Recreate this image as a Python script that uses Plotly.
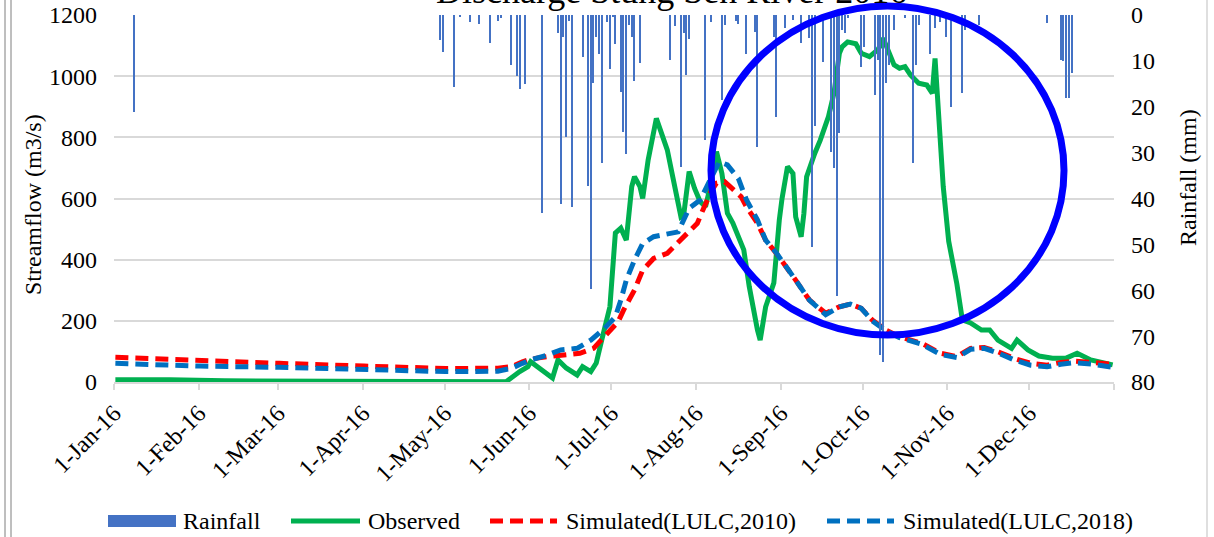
import pandas as pd
import plotly.graph_objects as go

# ---------------- data ----------------
YEAR_START = pd.Timestamp("2016-01-01")

# day of year (0 = 1-Jan-2016) and streamflow (m3/s)
obs_day = [0, 10, 20, 40, 70, 100, 143, 148, 151, 152, 155, 160, 162, 165, 169, 171,
           174, 176, 178, 181, 183, 185, 187, 189, 190, 192, 193, 195, 198, 200, 202, 204,
           207, 208, 210, 212, 214, 216, 218, 220, 222, 224, 226, 230, 232, 235, 236, 238,
           241, 243, 244, 246, 248, 249, 251, 252, 253, 256, 258, 261, 263, 265, 266, 268,
           271, 273, 276, 279, 280, 281, 283, 285, 287, 289, 291, 294, 297, 299, 300, 301,
           302, 303, 305, 308, 310, 313, 317, 320, 323, 328, 330, 334, 338, 343, 348, 352,
           357, 362, 365]
obs_val = [7, 9, 7, 4, 2, 1, 1, 34, 50, 66, 46, 13, 72, 46, 23, 50,
           34, 62, 137, 246, 487, 503, 464, 639, 671, 639, 600, 726, 862, 813, 759, 671,
           540, 546, 688, 633, 590, 573, 650, 753, 682, 552, 520, 432, 312, 170, 137, 246,
           324, 530, 600, 704, 682, 540, 475, 551, 671, 748, 791, 868, 944, 1075, 1096, 1112,
           1106, 1075, 1064, 1086, 1100, 1124, 1075, 1037, 1026, 1031, 1004, 977, 971, 944, 1058, 900,
           769, 639, 460, 320, 203, 193, 170, 170, 137, 110, 137, 105, 85, 78, 78, 94,
           72, 61, 56]

sim10_day = [0, 31, 60, 91, 121, 140, 145, 149, 152, 158, 163, 170, 175, 180, 184, 186,
             190, 193, 197, 202, 205, 209, 213, 215, 218, 220, 223, 225, 229, 231, 235, 238,
             242, 249, 254, 260, 265, 269, 273, 277, 282, 287, 295, 302, 308, 313, 318, 323,
             329, 335, 341, 346, 351, 358, 365]
sim10_val = [81, 69, 61, 52, 44, 45, 50, 66, 75, 83, 88, 94, 110, 159, 197, 235,
             301, 366, 404, 421, 448, 486, 519, 562, 622, 650, 655, 639, 606, 573, 519, 464,
             420, 333, 268, 225, 246, 255, 241, 203, 170, 148, 127, 94, 83, 110, 113, 99,
             77, 61, 55, 64, 68, 64, 58]

sim18_day = [0, 31, 60, 91, 121, 140, 145, 149, 152, 158, 163, 169, 174, 179, 183, 185,
             187, 190, 193, 197, 202, 206, 208, 210, 214, 218, 221, 224, 228, 231, 235, 238,
             242, 249, 254, 260, 265, 269, 273, 277, 282, 287, 295, 302, 308, 313, 318, 323,
             329, 335, 341, 346, 351, 358, 365]
sim18_val = [61, 52, 48, 41, 34, 35, 45, 61, 72, 88, 105, 110, 137, 175, 213, 268,
             333, 399, 453, 475, 486, 491, 530, 568, 595, 671, 720, 710, 666, 595, 530, 464,
             421, 333, 268, 220, 246, 255, 241, 200, 168, 145, 124, 90, 80, 107, 110, 95,
             72, 55, 50, 58, 63, 58, 48]

# daily rainfall (mm)
rain_day = [7, 119, 120, 124, 126, 130, 133, 137, 140, 141, 145, 147, 148, 150, 156, 162,
            163, 164, 165, 166, 167, 171, 173, 174, 175, 176, 177, 178, 180, 181, 182, 183,
            185, 186, 187, 188, 189, 190, 192, 203, 205, 207, 208, 209, 210, 216, 218, 222,
            223, 227, 228, 231, 234, 235, 241, 242, 245, 248, 251, 254, 255, 256, 259, 262,
            263, 264, 265, 266, 267, 268, 273, 274, 278, 279, 280, 281, 282, 283, 285, 289,
            292, 293, 294, 298, 300, 302, 304, 306, 310, 311, 316, 341, 346, 347, 348, 349, 350]
rain_mm = [21.2, 5.4, 8.0, 15.8, 0.4, 1.5, 2.0, 6.0, 1.2, 0.7, 10.9, 13.3, 16.2, 15.0, 43.2, 4.0,
           41.2, 4.9, 26.7, 1.2, 41.8, 9.2, 37.3, 59.8, 14.8, 4.7, 8.5, 32.3, 1.5, 11.8, 0.4, 6.3,
           16.7, 25.4, 30.2, 2.2, 4.9, 14.3, 10.5, 9.7, 2.5, 33.1, 4.0, 13.1, 5.3, 27.3, 1.5, 18.5,
           2.2, 1.2, 2.0, 8.4, 3.6, 28.7, 4.7, 22.2, 2.9, 1.1, 6.0, 5.1, 50.5, 24.3, 10.2, 29.8,
           33.4, 61.3, 25.8, 3.3, 4.0, 0.7, 11.3, 6.9, 17.4, 9.8, 74.1, 75.6, 14.9, 10.9, 3.3, 0.7,
           32.3, 10.9, 2.2, 8.4, 2.9, 1.5, 4.7, 20.0, 17.1, 3.3, 2.2, 1.7, 9.8, 10.0, 18.2, 18.0, 12.6]

month_labels = ["1-Jan-16", "1-Feb-16", "1-Mar-16", "1-Apr-16", "1-May-16", "1-Jun-16",
                "1-Jul-16", "1-Aug-16", "1-Sep-16", "1-Oct-16", "1-Nov-16", "1-Dec-16"]

title_text = "Discharge Stung Sen River 2016"
y_left_title = "Streamflow (m3/s)"
y_right_title = "Rainfall (mm)"
legend_names = ["Rainfall", "Observed", "Simulated(LULC,2010)", "Simulated(LULC,2018)"]

# ---------------- helpers ----------------
def to_dates(days):
    return YEAR_START + pd.to_timedelta(days, unit="D")

W, H = 1214, 537
L, R, T, B = 114, 100, 15, 155
PW, PH = W - L - R, H - T - B

def px(x):  # pixel -> paper x
    return (x - L) / PW

def py(y):  # pixel -> paper y
    return (H - B - y) / PH

FONT = "Liberation Serif"
C_RAIN = "#4472C4"
C_OBS = "#00B050"
C_S10 = "#FF0000"
C_S18 = "#0070C0"
GRID = "#D9D9D9"

half = pd.Timedelta(hours=12)
month_starts = pd.date_range("2016-01-01", periods=12, freq="MS")
tickvals = list(month_starts - half) + [pd.Timestamp("2017-01-01") - half]
ticktext = month_labels + [""]

fig = go.Figure()
fig.add_trace(go.Bar(x=to_dates(rain_day), y=rain_mm, yaxis="y2", name=legend_names[0],
                     marker=dict(color=C_RAIN, line=dict(width=0)),
                     width=0.42 * 86400000, showlegend=False))
fig.add_trace(go.Scatter(x=to_dates(obs_day), y=obs_val, mode="lines", name=legend_names[1],
                         line=dict(color=C_OBS, width=5), showlegend=False))
fig.add_trace(go.Scatter(x=to_dates(sim10_day), y=sim10_val, mode="lines", name=legend_names[2],
                         line=dict(color=C_S10, width=5, dash="13px,7px"), showlegend=False))
fig.add_trace(go.Scatter(x=to_dates(sim18_day), y=sim18_val, mode="lines", name=legend_names[3],
                         line=dict(color=C_S18, width=5, dash="13px,7px"), showlegend=False))

shapes = [
    # highlight ellipse
    dict(type="circle", xref="paper", yref="paper", x0=px(711), x1=px(1064), y0=py(335), y1=py(6),
         line=dict(color="#0000FF", width=7), layer="above"),
    # frame lines
    dict(type="line", xref="paper", yref="paper", x0=px(5), x1=px(5), y0=py(0), y1=py(537),
         line=dict(color="#7F7F7F", width=1)),
    dict(type="line", xref="paper", yref="paper", x0=px(11), x1=px(11), y0=py(0), y1=py(537),
         line=dict(color="#7F7F7F", width=1)),
    dict(type="line", xref="paper", yref="paper", x0=px(1207), x1=px(1207), y0=py(0), y1=py(537),
         line=dict(color="#BFBFBF", width=1)),
    # legend symbols
    dict(type="rect", xref="paper", yref="paper", x0=px(108), x1=px(176), y0=py(527), y1=py(515),
         fillcolor=C_RAIN, line=dict(width=0)),
    dict(type="line", xref="paper", yref="paper", x0=px(291), x1=px(360), y0=py(521), y1=py(521),
         line=dict(color=C_OBS, width=5)),
    dict(type="line", xref="paper", yref="paper", x0=px(490), x1=px(557), y0=py(521), y1=py(521),
         line=dict(color=C_S10, width=5, dash="13px,7px")),
    dict(type="line", xref="paper", yref="paper", x0=px(827), x1=px(894), y0=py(521), y1=py(521),
         line=dict(color=C_S18, width=5, dash="13px,7px")),
]

ann_font = dict(family=FONT, size=24, color="black")
annotations = [
    dict(text=title_text, xref="paper", yref="paper", x=px(671), y=py(12.5), xanchor="center",
         yanchor="bottom", showarrow=False, font=dict(family=FONT, size=36, color="black")),
    dict(text=y_left_title, xref="paper", yref="paper", x=px(33), y=py(205), textangle=-90,
         xanchor="center", yanchor="middle", showarrow=False, font=ann_font),
    dict(text=y_right_title, xref="paper", yref="paper", x=px(1188), y=py(178), textangle=-90,
         xanchor="center", yanchor="middle", showarrow=False, font=ann_font),
]
for xpos, name in zip([181, 366, 564, 901], legend_names):
    annotations.append(dict(text=name, xref="paper", yref="paper", x=px(xpos), y=py(521),
                            xanchor="left", yanchor="middle", showarrow=False, font=ann_font))

tick_font = dict(family=FONT, size=24, color="black")
fig.update_layout(
    width=W, height=H,
    margin=dict(l=L, r=R, t=T, b=B, autoexpand=False),
    paper_bgcolor="white", plot_bgcolor="white",
    font=dict(family=FONT, size=24, color="black"),
    bargap=0,
    showlegend=False,
    xaxis=dict(type="date", range=[YEAR_START - half, pd.Timestamp("2017-01-01") - half],
               tickmode="array", tickvals=tickvals, ticktext=ticktext, tickangle=-45,
               ticks="outside", ticklen=6, tickcolor=GRID, tickwidth=1.5,
               showline=True, linecolor=GRID, linewidth=1.5, showgrid=False, zeroline=False,
               automargin=False, tickfont=tick_font),
    yaxis=dict(range=[0, 1200], tickmode="linear", tick0=0, dtick=200,
               showgrid=True, gridcolor=GRID, gridwidth=1.5, zeroline=False, showline=False,
               ticks="", ticklabelstandoff=16, automargin=False, tickfont=tick_font),
    yaxis2=dict(overlaying="y", side="right", anchor="x", range=[80, 0], tickmode="linear",
                tick0=0, dtick=10, showgrid=False, zeroline=False, showline=False, ticks="",
                ticklabelstandoff=16, automargin=False, tickfont=tick_font),
    shapes=shapes,
    annotations=annotations,
)

fig.write_html("out.html", config={"displayModeBar": False},
               post_script="document.body.style.margin='0';document.body.style.overflow='hidden';")
